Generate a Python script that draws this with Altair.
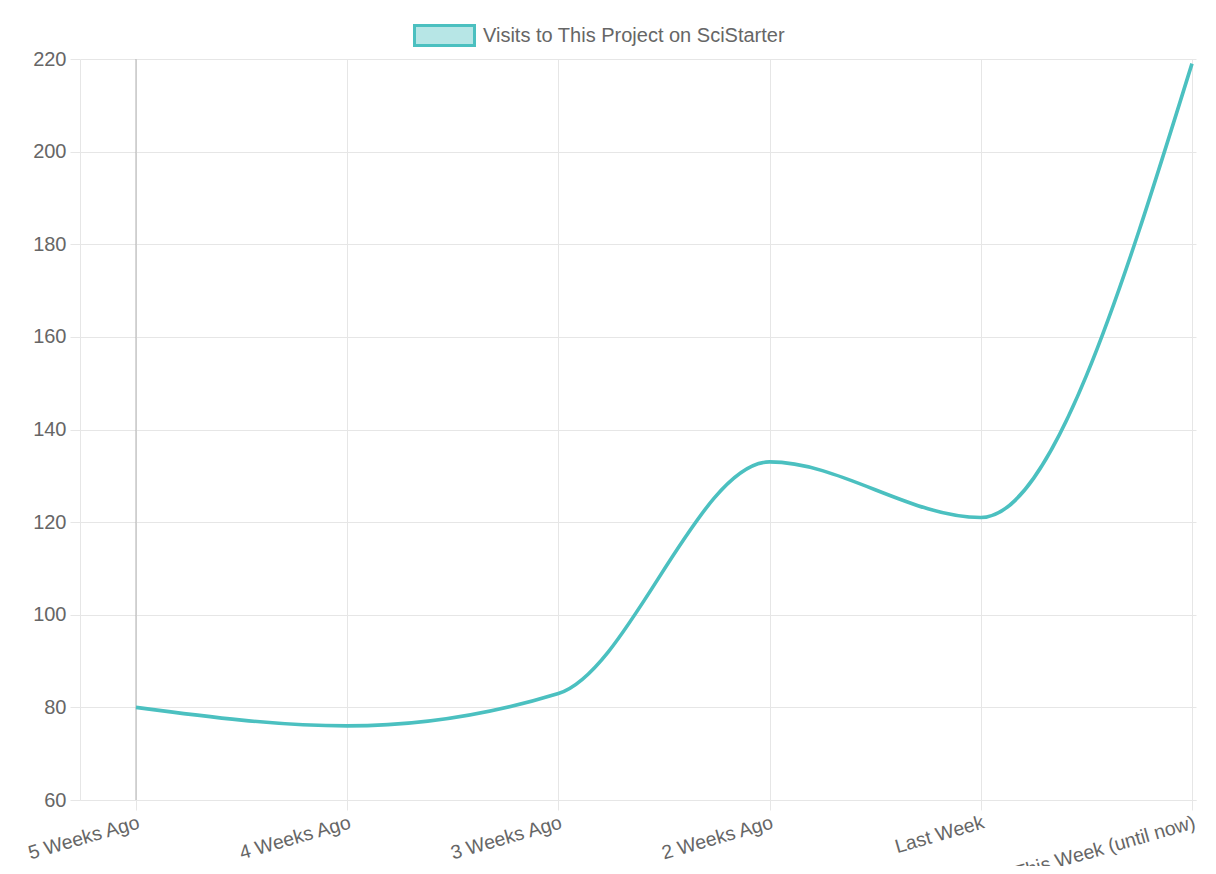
import altair as alt
import pandas as pd

weeks = ["5 Weeks Ago", "4 Weeks Ago", "3 Weeks Ago", "2 Weeks Ago", "Last Week", "This Week (until now)"]
visits = [80, 76, 83, 133, 121, 219]
series_name = "Visits to This Project on SciStarter"
y_ticks = [60, 80, 100, 120, 140, 160, 180, 200, 220]

df = pd.DataFrame({
    "idx": list(range(len(weeks))),
    "week": weeks,
    "visits": visits,
    "series": [series_name] * len(weeks),
})
first_df = df.iloc[:1]

FONT = "Liberation Sans"
GRID = "#e6e6e6"
TEAL = "#4BC0C0"

label_expr = "[" + ",".join("'" + w + "'" for w in weeks) + "][datum.value]"

x_scale = alt.Scale(domain=[-0.265, 5.019], nice=False, zero=False)
y_scale = alt.Scale(domain=[60, 220], nice=False, zero=False)

line = alt.Chart(df).mark_line(
    color=TEAL, strokeWidth=3.6, interpolate="monotone"
).encode(
    x=alt.X("idx:Q", scale=x_scale, title=None,
            axis=alt.Axis(values=list(range(len(weeks))), labelExpr=label_expr,
                          labelAngle=-16, labelAlign="right", labelBaseline="top",
                          labelPadding=3, tickSize=10, tickColor=GRID, domainColor=GRID,
                          gridColor=GRID, grid=True, labelColor="#666", labelFontSize=19.5,
                          labelFont=FONT, labelOverlap=False, labelBound=False,
                          labelFlush=False, labelLimit=0)),
    y=alt.Y("visits:Q", scale=y_scale, title=None,
            axis=alt.Axis(values=y_ticks, tickSize=10, tickColor=GRID, domainColor=GRID,
                          gridColor=GRID, labelColor="#666", labelFontSize=20,
                          labelFont=FONT, labelPadding=4)),
    color=alt.Color("series:N", scale=alt.Scale(range=[TEAL]), title=None,
                    legend=alt.Legend(orient="none", legendX=343, legendY=-45,
                                      symbolType="M-1.5,-0.5H1.5V0.5H-1.5Z", symbolSize=1600,
                                      symbolFillColor="#b7e6e6", symbolStrokeColor=TEAL,
                                      symbolStrokeWidth=3, symbolOpacity=1,
                                      labelFont=FONT, labelFontSize=20, labelColor="#666",
                                      labelOffset=17, labelLimit=0)),
)

first_rule = alt.Chart(first_df).mark_rule(color="#b3b3b3", strokeWidth=1).encode(
    x=alt.X("idx:Q", scale=x_scale)
)

chart = alt.layer(first_rule, line).properties(
    width=1116, height=741,
    padding={"left": 72, "top": 51, "right": 12, "bottom": 66},
    autosize=alt.AutoSizeParams(type="none"),
).configure_view(stroke=None)

chart.save("out.html", embed_options={"renderer": "svg", "actions": False})
